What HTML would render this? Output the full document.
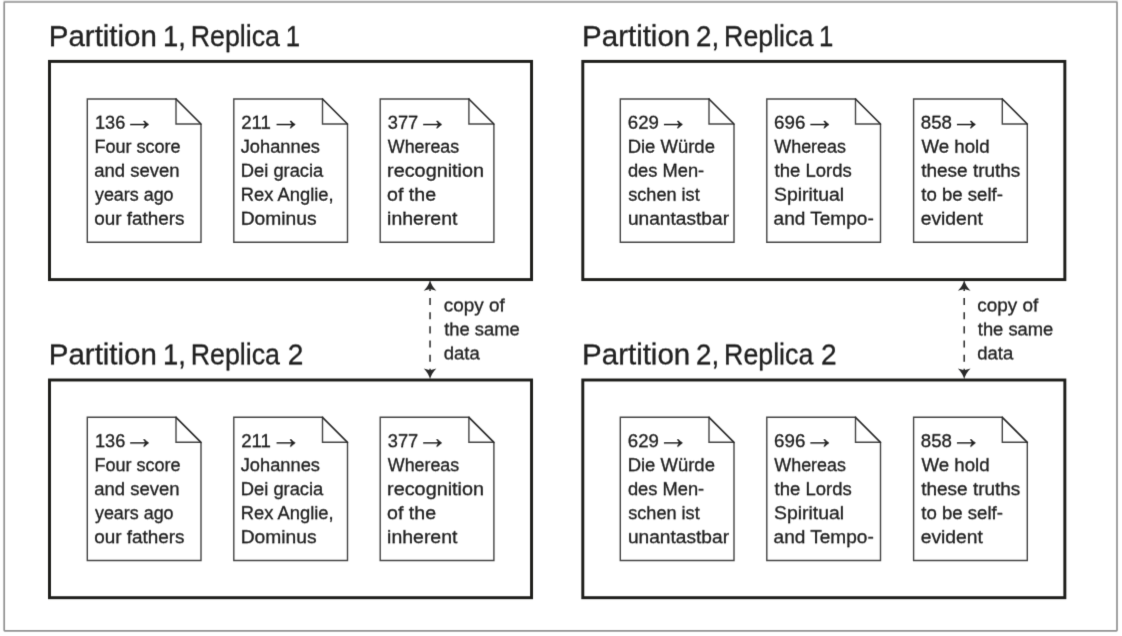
<!DOCTYPE html>
<html lang="en">
<head>
<meta charset="utf-8">
<title>Partitions and replicas</title>
<style>
html,body{margin:0;padding:0;background:#fff;}
body{width:1122px;height:636px;overflow:hidden;}
svg{display:block;}
text{font-family:"Liberation Sans",sans-serif;fill:#212121;stroke:#212121;stroke-width:0.32px;paint-order:stroke fill;white-space:pre;}
</style>
</head>
<body>
<svg width="1122" height="636" viewBox="0 0 1122 636">
<defs>
<filter id="fb" x="0" y="0" width="1122" height="636" filterUnits="userSpaceOnUse" color-interpolation-filters="sRGB"><feConvolveMatrix order="3" kernelMatrix="0.0113 0.0838 0.0113 0.0838 0.6193 0.0838 0.0113 0.0838 0.0113" divisor="1" edgeMode="duplicate" preserveAlpha="false"/></filter>
<filter id="ft0" x="0" y="0" width="1122" height="636" filterUnits="userSpaceOnUse" color-interpolation-filters="sRGB"><feConvolveMatrix order="3" kernelMatrix="0.0037 0.0276 0.0037 0.0751 0.5551 0.0751 0.0276 0.2042 0.0276" divisor="1" edgeMode="duplicate" preserveAlpha="false"/></filter>
<filter id="ft1" x="0" y="0" width="1122" height="636" filterUnits="userSpaceOnUse" color-interpolation-filters="sRGB"><feConvolveMatrix order="3" kernelMatrix="0.0010 0.0071 0.0010 0.0528 0.3899 0.0528 0.0528 0.3899 0.0528" divisor="1" edgeMode="duplicate" preserveAlpha="false"/></filter>
<filter id="ft2" x="0" y="0" width="1122" height="636" filterUnits="userSpaceOnUse" color-interpolation-filters="sRGB"><feConvolveMatrix order="3" kernelMatrix="0.0002 0.0014 0.0002 0.0286 0.2113 0.0286 0.0777 0.5743 0.0777" divisor="1" edgeMode="duplicate" preserveAlpha="false"/></filter>
</defs>
<rect x="0" y="0" width="1122" height="636" fill="#fff"/>
<g filter="url(#fb)">
<rect x="3.40" y="0" width="1114.40" height="2.0" fill="#ececec"/>
<rect x="4.2" y="2.0" width="1112.80" height="628.90" rx="0.6" fill="none" stroke="#929292" stroke-width="1.7"/>
<rect x="49.50" y="61.40" width="482.05" height="218.20" fill="none" stroke="#1e1e1b" stroke-width="2.95"/>
<rect x="582.80" y="61.40" width="482.05" height="218.20" fill="none" stroke="#1e1e1b" stroke-width="2.95"/>
<path d="M201.00,124.00 H176.00 V99.00 H87.30 V242.20 H201.00 V124.00" fill="none" stroke="#444444" stroke-width="1.4" stroke-linejoin="miter"/>
<path d="M176.00,99.00 L201.00,124.00" fill="none" stroke="#2a2a2a" stroke-width="1.65" stroke-linecap="round"/>
<path d="M347.50,124.00 H322.50 V99.00 H233.80 V242.20 H347.50 V124.00" fill="none" stroke="#444444" stroke-width="1.4" stroke-linejoin="miter"/>
<path d="M322.50,99.00 L347.50,124.00" fill="none" stroke="#2a2a2a" stroke-width="1.65" stroke-linecap="round"/>
<path d="M493.90,124.00 H468.90 V99.00 H380.20 V242.20 H493.90 V124.00" fill="none" stroke="#444444" stroke-width="1.4" stroke-linejoin="miter"/>
<path d="M468.90,99.00 L493.90,124.00" fill="none" stroke="#2a2a2a" stroke-width="1.65" stroke-linecap="round"/>
<path d="M734.00,124.00 H709.00 V99.00 H620.30 V242.20 H734.00 V124.00" fill="none" stroke="#444444" stroke-width="1.4" stroke-linejoin="miter"/>
<path d="M709.00,99.00 L734.00,124.00" fill="none" stroke="#2a2a2a" stroke-width="1.65" stroke-linecap="round"/>
<path d="M880.50,124.00 H855.50 V99.00 H766.80 V242.20 H880.50 V124.00" fill="none" stroke="#444444" stroke-width="1.4" stroke-linejoin="miter"/>
<path d="M855.50,99.00 L880.50,124.00" fill="none" stroke="#2a2a2a" stroke-width="1.65" stroke-linecap="round"/>
<path d="M1027.30,124.00 H1002.30 V99.00 H913.60 V242.20 H1027.30 V124.00" fill="none" stroke="#444444" stroke-width="1.4" stroke-linejoin="miter"/>
<path d="M1002.30,99.00 L1027.30,124.00" fill="none" stroke="#2a2a2a" stroke-width="1.65" stroke-linecap="round"/>
<rect x="49.50" y="380.00" width="482.05" height="217.70" fill="none" stroke="#1e1e1b" stroke-width="2.95"/>
<rect x="582.80" y="380.00" width="482.05" height="217.70" fill="none" stroke="#1e1e1b" stroke-width="2.95"/>
<path d="M201.00,442.30 H176.00 V417.30 H87.30 V560.50 H201.00 V442.30" fill="none" stroke="#444444" stroke-width="1.4" stroke-linejoin="miter"/>
<path d="M176.00,417.30 L201.00,442.30" fill="none" stroke="#2a2a2a" stroke-width="1.65" stroke-linecap="round"/>
<path d="M347.50,442.30 H322.50 V417.30 H233.80 V560.50 H347.50 V442.30" fill="none" stroke="#444444" stroke-width="1.4" stroke-linejoin="miter"/>
<path d="M322.50,417.30 L347.50,442.30" fill="none" stroke="#2a2a2a" stroke-width="1.65" stroke-linecap="round"/>
<path d="M493.90,442.30 H468.90 V417.30 H380.20 V560.50 H493.90 V442.30" fill="none" stroke="#444444" stroke-width="1.4" stroke-linejoin="miter"/>
<path d="M468.90,417.30 L493.90,442.30" fill="none" stroke="#2a2a2a" stroke-width="1.65" stroke-linecap="round"/>
<path d="M734.00,442.30 H709.00 V417.30 H620.30 V560.50 H734.00 V442.30" fill="none" stroke="#444444" stroke-width="1.4" stroke-linejoin="miter"/>
<path d="M709.00,417.30 L734.00,442.30" fill="none" stroke="#2a2a2a" stroke-width="1.65" stroke-linecap="round"/>
<path d="M880.50,442.30 H855.50 V417.30 H766.80 V560.50 H880.50 V442.30" fill="none" stroke="#444444" stroke-width="1.4" stroke-linejoin="miter"/>
<path d="M855.50,417.30 L880.50,442.30" fill="none" stroke="#2a2a2a" stroke-width="1.65" stroke-linecap="round"/>
<path d="M1027.30,442.30 H1002.30 V417.30 H913.60 V560.50 H1027.30 V442.30" fill="none" stroke="#444444" stroke-width="1.4" stroke-linejoin="miter"/>
<path d="M1002.30,417.30 L1027.30,442.30" fill="none" stroke="#2a2a2a" stroke-width="1.65" stroke-linecap="round"/>
<line x1="430.05" y1="283.8" x2="430.05" y2="376.5" stroke="#2a2a2a" stroke-width="1.5" stroke-dasharray="7.1 7.07" stroke-dashoffset="0"/>
<path d="M430.05,279.80 Q431.35,285.80 436.35,290.80 L430.05,289.00 L423.75,290.80 Q428.75,285.80 430.05,279.80 Z" fill="#2a2a2a"/>
<path d="M430.05,379.40 Q431.35,373.40 436.35,368.40 L430.05,370.20 L423.75,368.40 Q428.75,373.40 430.05,379.40 Z" fill="#2a2a2a"/>
<line x1="964.20" y1="283.8" x2="964.20" y2="376.5" stroke="#2a2a2a" stroke-width="1.5" stroke-dasharray="7.1 7.07" stroke-dashoffset="0"/>
<path d="M964.20,279.80 Q965.50,285.80 970.50,290.80 L964.20,289.00 L957.90,290.80 Q962.90,285.80 964.20,279.80 Z" fill="#2a2a2a"/>
<path d="M964.20,379.40 Q965.50,373.40 970.50,368.40 L964.20,370.20 L957.90,368.40 Q962.90,373.40 964.20,379.40 Z" fill="#2a2a2a"/>
</g>
<g filter="url(#ft0)">
<text y="46" font-size="28.9"><tspan x="48.78" textLength="108.13" lengthAdjust="spacingAndGlyphs">Partition</tspan> <tspan x="162.91" textLength="22.85" lengthAdjust="spacingAndGlyphs">1,</tspan> <tspan x="190.81" textLength="89.19" lengthAdjust="spacingAndGlyphs">Replica</tspan> <tspan x="285.64" textLength="14.32" lengthAdjust="spacingAndGlyphs">1</tspan></text>
<text y="46" font-size="28.9"><tspan x="582.08" textLength="108.13" lengthAdjust="spacingAndGlyphs">Partition</tspan> <tspan x="696.11" textLength="23.08" lengthAdjust="spacingAndGlyphs">2,</tspan> <tspan x="724.11" textLength="89.19" lengthAdjust="spacingAndGlyphs">Replica</tspan> <tspan x="818.94" textLength="14.32" lengthAdjust="spacingAndGlyphs">1</tspan></text>
</g>
<g filter="url(#ft2)">
<text y="128" font-size="18.2"><tspan x="95.02" textLength="30.28" lengthAdjust="spacingAndGlyphs">136</tspan> <tspan x="124.29" dy="1.0" font-size="31" textLength="30.92" lengthAdjust="spacingAndGlyphs">→</tspan></text>
<text x="94.42" y="152" font-size="19.1" textLength="86.18" lengthAdjust="spacingAndGlyphs">Four score</text>
<text x="94.21" y="176" font-size="19.1" textLength="85.29" lengthAdjust="spacingAndGlyphs">and seven</text>
<text x="94.96" y="200" font-size="19.1" textLength="78.60" lengthAdjust="spacingAndGlyphs">years ago</text>
<text x="94.21" y="224" font-size="19.1" textLength="90.38" lengthAdjust="spacingAndGlyphs">our fathers</text>
<text y="128" font-size="18.2"><tspan x="241.16" textLength="29.75" lengthAdjust="spacingAndGlyphs">211</tspan> <tspan x="270.79" dy="1.0" font-size="31" textLength="30.92" lengthAdjust="spacingAndGlyphs">→</tspan></text>
<text x="240.71" y="152" font-size="19.1" textLength="79.25" lengthAdjust="spacingAndGlyphs">Johannes</text>
<text x="240.80" y="176" font-size="19.1" textLength="82.50" lengthAdjust="spacingAndGlyphs">Dei gracia</text>
<text x="240.79" y="200" font-size="19.1" textLength="92.86" lengthAdjust="spacingAndGlyphs">Rex Anglie,</text>
<text x="240.72" y="224" font-size="19.1" textLength="75.87" lengthAdjust="spacingAndGlyphs">Dominus</text>
<text y="128" font-size="18.2"><tspan x="387.81" textLength="30.41" lengthAdjust="spacingAndGlyphs">377</tspan> <tspan x="417.29" dy="1.0" font-size="31" textLength="30.92" lengthAdjust="spacingAndGlyphs">→</tspan></text>
<text x="387.82" y="152" font-size="19.1" textLength="71.32" lengthAdjust="spacingAndGlyphs">Whereas</text>
<text x="387.08" y="176" font-size="19.1" textLength="97.00" lengthAdjust="spacingAndGlyphs">recognition</text>
<text x="387.08" y="200" font-size="19.1" textLength="48.99" lengthAdjust="spacingAndGlyphs">of the</text>
<text x="387.10" y="224" font-size="19.1" textLength="70.34" lengthAdjust="spacingAndGlyphs">inherent</text>
<text y="128" font-size="18.2"><tspan x="627.86" textLength="31.03" lengthAdjust="spacingAndGlyphs">629</tspan> <tspan x="657.99" dy="1.0" font-size="31" textLength="30.92" lengthAdjust="spacingAndGlyphs">→</tspan></text>
<text x="627.68" y="152" font-size="19.1" textLength="87.24" lengthAdjust="spacingAndGlyphs">Die Würde</text>
<text x="627.93" y="176" font-size="19.1" textLength="76.28" lengthAdjust="spacingAndGlyphs">des Men-</text>
<text x="628.20" y="200" font-size="19.1" textLength="71.54" lengthAdjust="spacingAndGlyphs">schen ist</text>
<text x="627.96" y="224" font-size="19.1" textLength="101.06" lengthAdjust="spacingAndGlyphs">unantastbar</text>
<text y="128" font-size="18.2"><tspan x="774.05" textLength="31.28" lengthAdjust="spacingAndGlyphs">696</tspan> <tspan x="804.49" dy="1.0" font-size="31" textLength="30.92" lengthAdjust="spacingAndGlyphs">→</tspan></text>
<text x="774.32" y="152" font-size="19.1" textLength="71.63" lengthAdjust="spacingAndGlyphs">Whereas</text>
<text x="774.62" y="176" font-size="19.1" textLength="77.15" lengthAdjust="spacingAndGlyphs">the Lords</text>
<text x="774.02" y="200" font-size="19.1" textLength="70.08" lengthAdjust="spacingAndGlyphs">Spiritual</text>
<text x="773.59" y="224" font-size="19.1" textLength="100.15" lengthAdjust="spacingAndGlyphs">and Tempo-</text>
<text y="128" font-size="18.2"><tspan x="920.79" textLength="31.12" lengthAdjust="spacingAndGlyphs">858</tspan> <tspan x="951.09" dy="1.0" font-size="31" textLength="30.92" lengthAdjust="spacingAndGlyphs">→</tspan></text>
<text x="921.42" y="152" font-size="19.1" textLength="68.19" lengthAdjust="spacingAndGlyphs">We hold</text>
<text x="921.21" y="176" font-size="19.1" textLength="99.17" lengthAdjust="spacingAndGlyphs">these truths</text>
<text x="921.22" y="200" font-size="19.1" textLength="81.71" lengthAdjust="spacingAndGlyphs">to be self-</text>
<text x="920.68" y="224" font-size="19.1" textLength="62.26" lengthAdjust="spacingAndGlyphs">evident</text>
</g>
<g filter="url(#ft1)">
<text x="443.70" y="311" font-size="19.1" textLength="60.98" lengthAdjust="spacingAndGlyphs">copy of</text>
<text x="444.22" y="335" font-size="19.1" textLength="75.49" lengthAdjust="spacingAndGlyphs">the same</text>
<text x="443.72" y="359" font-size="19.1" textLength="35.98" lengthAdjust="spacingAndGlyphs">data</text>
<text x="977.30" y="311" font-size="19.1" textLength="60.98" lengthAdjust="spacingAndGlyphs">copy of</text>
<text x="977.82" y="335" font-size="19.1" textLength="75.49" lengthAdjust="spacingAndGlyphs">the same</text>
<text x="977.32" y="359" font-size="19.1" textLength="35.98" lengthAdjust="spacingAndGlyphs">data</text>
</g>
<g filter="url(#ft1)">
<text y="364" font-size="28.9"><tspan x="48.78" textLength="108.13" lengthAdjust="spacingAndGlyphs">Partition</tspan> <tspan x="162.91" textLength="22.85" lengthAdjust="spacingAndGlyphs">1,</tspan> <tspan x="190.81" textLength="89.19" lengthAdjust="spacingAndGlyphs">Replica</tspan> <tspan x="287.79" textLength="15.63" lengthAdjust="spacingAndGlyphs">2</tspan></text>
<text y="364" font-size="28.9"><tspan x="582.08" textLength="108.13" lengthAdjust="spacingAndGlyphs">Partition</tspan> <tspan x="696.11" textLength="23.08" lengthAdjust="spacingAndGlyphs">2,</tspan> <tspan x="724.11" textLength="89.19" lengthAdjust="spacingAndGlyphs">Replica</tspan> <tspan x="821.09" textLength="15.63" lengthAdjust="spacingAndGlyphs">2</tspan></text>
</g>
<g filter="url(#ft0)">
<text y="447" font-size="18.2"><tspan x="95.02" textLength="30.28" lengthAdjust="spacingAndGlyphs">136</tspan> <tspan x="124.29" dy="1.0" font-size="31" textLength="30.92" lengthAdjust="spacingAndGlyphs">→</tspan></text>
<text x="94.42" y="471" font-size="19.1" textLength="86.18" lengthAdjust="spacingAndGlyphs">Four score</text>
<text x="94.21" y="495" font-size="19.1" textLength="85.29" lengthAdjust="spacingAndGlyphs">and seven</text>
<text x="94.96" y="519" font-size="19.1" textLength="78.60" lengthAdjust="spacingAndGlyphs">years ago</text>
<text x="94.21" y="543" font-size="19.1" textLength="90.38" lengthAdjust="spacingAndGlyphs">our fathers</text>
<text y="447" font-size="18.2"><tspan x="241.16" textLength="29.75" lengthAdjust="spacingAndGlyphs">211</tspan> <tspan x="270.79" dy="1.0" font-size="31" textLength="30.92" lengthAdjust="spacingAndGlyphs">→</tspan></text>
<text x="240.71" y="471" font-size="19.1" textLength="79.25" lengthAdjust="spacingAndGlyphs">Johannes</text>
<text x="240.80" y="495" font-size="19.1" textLength="82.50" lengthAdjust="spacingAndGlyphs">Dei gracia</text>
<text x="240.79" y="519" font-size="19.1" textLength="92.86" lengthAdjust="spacingAndGlyphs">Rex Anglie,</text>
<text x="240.72" y="543" font-size="19.1" textLength="75.87" lengthAdjust="spacingAndGlyphs">Dominus</text>
<text y="447" font-size="18.2"><tspan x="387.81" textLength="30.41" lengthAdjust="spacingAndGlyphs">377</tspan> <tspan x="417.29" dy="1.0" font-size="31" textLength="30.92" lengthAdjust="spacingAndGlyphs">→</tspan></text>
<text x="387.82" y="471" font-size="19.1" textLength="71.32" lengthAdjust="spacingAndGlyphs">Whereas</text>
<text x="387.08" y="495" font-size="19.1" textLength="97.00" lengthAdjust="spacingAndGlyphs">recognition</text>
<text x="387.08" y="519" font-size="19.1" textLength="48.99" lengthAdjust="spacingAndGlyphs">of the</text>
<text x="387.10" y="543" font-size="19.1" textLength="70.34" lengthAdjust="spacingAndGlyphs">inherent</text>
<text y="447" font-size="18.2"><tspan x="627.86" textLength="31.03" lengthAdjust="spacingAndGlyphs">629</tspan> <tspan x="657.99" dy="1.0" font-size="31" textLength="30.92" lengthAdjust="spacingAndGlyphs">→</tspan></text>
<text x="627.68" y="471" font-size="19.1" textLength="87.24" lengthAdjust="spacingAndGlyphs">Die Würde</text>
<text x="627.93" y="495" font-size="19.1" textLength="76.28" lengthAdjust="spacingAndGlyphs">des Men-</text>
<text x="628.20" y="519" font-size="19.1" textLength="71.54" lengthAdjust="spacingAndGlyphs">schen ist</text>
<text x="627.96" y="543" font-size="19.1" textLength="101.06" lengthAdjust="spacingAndGlyphs">unantastbar</text>
<text y="447" font-size="18.2"><tspan x="774.05" textLength="31.28" lengthAdjust="spacingAndGlyphs">696</tspan> <tspan x="804.49" dy="1.0" font-size="31" textLength="30.92" lengthAdjust="spacingAndGlyphs">→</tspan></text>
<text x="774.32" y="471" font-size="19.1" textLength="71.63" lengthAdjust="spacingAndGlyphs">Whereas</text>
<text x="774.62" y="495" font-size="19.1" textLength="77.15" lengthAdjust="spacingAndGlyphs">the Lords</text>
<text x="774.02" y="519" font-size="19.1" textLength="70.08" lengthAdjust="spacingAndGlyphs">Spiritual</text>
<text x="773.59" y="543" font-size="19.1" textLength="100.15" lengthAdjust="spacingAndGlyphs">and Tempo-</text>
<text y="447" font-size="18.2"><tspan x="920.79" textLength="31.12" lengthAdjust="spacingAndGlyphs">858</tspan> <tspan x="951.09" dy="1.0" font-size="31" textLength="30.92" lengthAdjust="spacingAndGlyphs">→</tspan></text>
<text x="921.42" y="471" font-size="19.1" textLength="68.19" lengthAdjust="spacingAndGlyphs">We hold</text>
<text x="921.21" y="495" font-size="19.1" textLength="99.17" lengthAdjust="spacingAndGlyphs">these truths</text>
<text x="921.22" y="519" font-size="19.1" textLength="81.71" lengthAdjust="spacingAndGlyphs">to be self-</text>
<text x="920.68" y="543" font-size="19.1" textLength="62.26" lengthAdjust="spacingAndGlyphs">evident</text>
</g>
</svg>
</body>
</html>
